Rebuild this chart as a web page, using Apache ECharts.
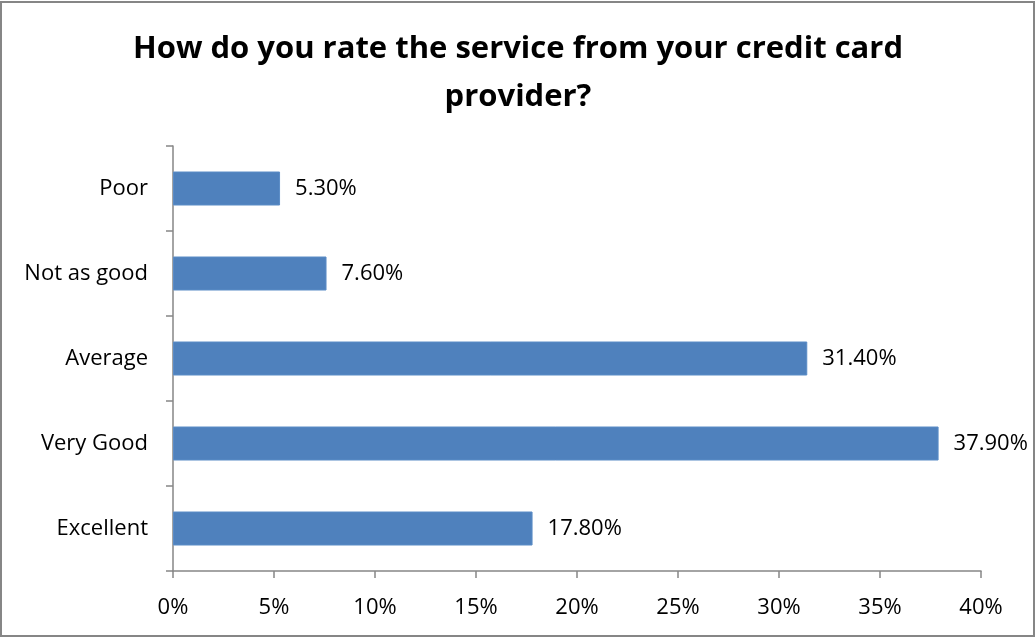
<!DOCTYPE html>
<html>
<head>
<meta charset="utf-8">
<script src="https://cdn.jsdelivr.net/npm/echarts@6/dist/echarts.min.js"></script>
<style>
  html, body { margin: 0; padding: 0; background: #fff; }
  #chart { width: 1036px; height: 639px; box-sizing: border-box; }
</style>
</head>
<body>
<div id="chart"></div>
<script>
// Survey answers, listed bottom to top as they appear on the category axis
const categories = ['Excellent', 'Very Good', 'Average', 'Not as good', 'Poor'];
const shares = [17.8, 37.9, 31.4, 7.6, 5.3];
const xTicks = [0, 5, 10, 15, 20, 25, 30, 35, 40];

const FONT = '"Open Sans", "Noto Sans", sans-serif';
const AXIS_GREY = '#868686';

const chart = echarts.init(document.getElementById('chart'));
chart.setOption({
  animation: false,
  backgroundColor: '#fff',
  graphic: [{
    type: 'rect',
    shape: { x: 1, y: 2, width: 1033, height: 634 },
    style: { fill: 'none', stroke: '#868686', lineWidth: 2 },
    silent: true
  }],
  title: {
    text: 'How do you rate the service from your credit card\nprovider?',
    left: 'center',
    top: 20,
    textStyle: {
      fontFamily: FONT,
      fontWeight: 'bold',
      fontSize: 31,
      lineHeight: 48,
      color: '#000'
    }
  },
  grid: { left: 173, right: 55, top: 146, bottom: 68, containLabel: false },
  xAxis: {
    type: 'value',
    min: xTicks[0],
    max: xTicks[xTicks.length - 1],
    interval: 5,
    splitLine: { show: false },
    axisLine: { show: true, lineStyle: { color: AXIS_GREY, width: 1.5 } },
    axisTick: { show: true, length: 7, lineStyle: { color: AXIS_GREY, width: 1.5 } },
    axisLabel: {
      fontFamily: FONT,
      fontSize: 22,
      color: '#000',
      margin: 26,
      formatter: v => v + '%'
    }
  },
  yAxis: {
    type: 'category',
    data: categories,
    axisLine: { show: true, lineStyle: { color: AXIS_GREY, width: 1.5 } },
    axisTick: { show: true, length: 7, alignWithLabel: false, lineStyle: { color: AXIS_GREY, width: 1.5 } },
    axisLabel: {
      fontFamily: FONT,
      fontSize: 22,
      color: '#000',
      margin: 25
    }
  },
  series: [{
    type: 'bar',
    data: shares,
    barWidth: 34,
    itemStyle: { color: '#4F81BD', borderColor: '#5B8CC6', borderWidth: 1 },
    label: {
      show: true,
      position: 'right',
      distance: 15,
      fontFamily: FONT,
      fontSize: 22,
      color: '#000',
      formatter: p => p.value.toFixed(2) + '%'
    }
  }]
});
</script>
</body>
</html>
